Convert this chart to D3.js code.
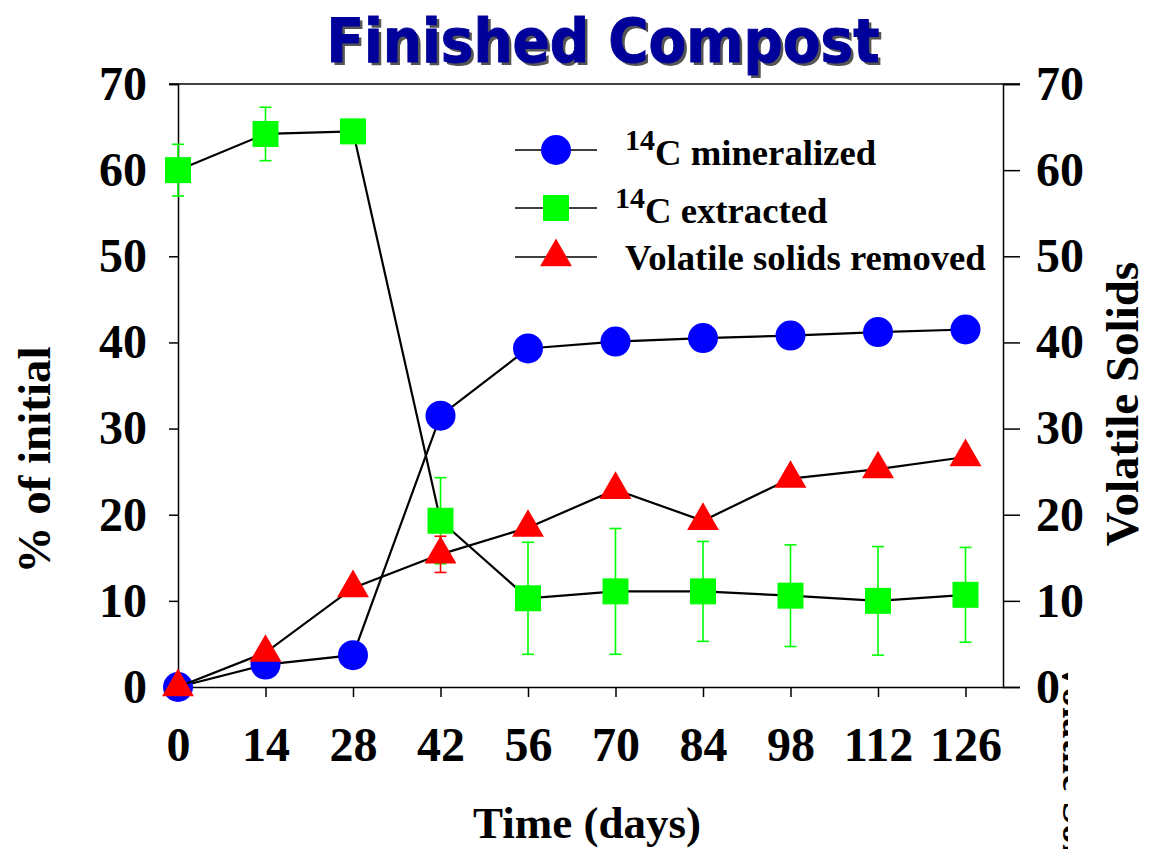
<!DOCTYPE html>
<html>
<head>
<meta charset="utf-8">
<script src="https://cdn.jsdelivr.net/npm/d3@7"></script>
<style>
  body { margin: 0; background: #fff; }
  text { font-family: "Liberation Serif", "Times New Roman", serif; font-weight: bold; }
</style>
</head>
<body>
<div id="chart"></div>
<script>
const days = [0, 14, 28, 42, 56, 70, 84, 98, 112, 126];
const mineralized = [0, 2.6, 3.7, 31.5, 39.3, 40.1, 40.5, 40.8, 41.2, 41.5];
const extracted = [60.0, 64.2, 64.5, 19.3, 10.3, 11.1, 11.1, 10.6, 10.0, 10.7];
const extractedErr = [3.0, 3.1, 0, 5.0, 6.5, 7.3, 5.8, 5.9, 6.3, 5.5];
const volatileRemoved = [0, 4.0, 11.5, 15.4, 18.5, 22.9, 19.3, 24.2, 25.3, 26.7];
const volatileErr = [0, 0, 0, 2.1, 0, 0, 0, 0, 0, 0];
const yTicks = [0, 10, 20, 30, 40, 50, 60, 70];

const W = 1158, H = 849;
const svg = d3.select("#chart").append("svg").attr("width", W).attr("height", H);

const x = d3.scaleLinear().domain([0, 132]).range([178, 1003]);
const y = d3.scaleLinear().domain([0, 70]).range([687, 84]);

// title with drop shadow
const title = "Finished Compost";
svg.append("text").attr("x", 606).attr("y", 65).attr("text-anchor", "middle")
  .attr("textLength", 553).attr("lengthAdjust", "spacingAndGlyphs")
  .style("font-family", "'DejaVu Sans', Verdana, sans-serif").style("font-size", "60px")
  .attr("fill", "#555").text(title);
svg.append("text").attr("x", 603).attr("y", 62).attr("text-anchor", "middle")
  .attr("textLength", 553).attr("lengthAdjust", "spacingAndGlyphs")
  .style("font-family", "'DejaVu Sans', Verdana, sans-serif").style("font-size", "60px")
  .attr("fill", "#00009a").attr("stroke", "#00009a").attr("stroke-width", 1).text(title);

// axes
const axisStyle = g => {
  g.selectAll("path, line").attr("stroke", "#000").attr("stroke-width", 1.5);
  g.selectAll("text").style("font-size", "48px").attr("fill", "#000");
};

svg.append("g").attr("transform", `translate(${x(0)},0)`)
  .call(d3.axisLeft(y).tickValues(yTicks).tickSize(9).tickSizeOuter(9).tickPadding(22))
  .call(axisStyle);

svg.append("g").attr("transform", `translate(${x.range()[1]},0)`)
  .call(d3.axisRight(y).tickValues(yTicks).tickSize(17).tickSizeOuter(17).tickPadding(16))
  .call(axisStyle);

svg.append("g").attr("transform", `translate(0,${y(0)})`)
  .call(d3.axisBottom(x).tickValues(days).tickSize(10).tickSizeOuter(0).tickPadding(30))
  .call(axisStyle);

// top frame
svg.append("line").attr("x1", x(0) - 9).attr("x2", x.range()[1] + 17)
  .attr("y1", y(70)).attr("y2", y(70)).attr("stroke", "#000").attr("stroke-width", 1.5);

// axis titles
svg.append("text").attr("transform", `translate(${W / 2 + 8},838)`).attr("text-anchor", "middle")
  .style("font-size", "45px").text("Time (days)");
svg.append("text").attr("transform", "translate(50,460) rotate(-90)").attr("text-anchor", "middle")
  .style("font-size", "47px").text("% of initial");
svg.append("text").attr("transform", "translate(1138,404) rotate(-90)").attr("text-anchor", "middle")
  .style("font-size", "47px").text("Volatile Solids");

// clipped sliver of rotated text at bottom right
svg.append("clipPath").attr("id", "sliver").append("rect")
  .attr("x", 1062).attr("y", 658).attr("width", 6).attr("height", 191);
svg.append("g").attr("clip-path", "url(#sliver)")
  .append("text")
  .attr("transform", "translate(1063,662) rotate(90)")
  .style("font-size", "40px").text("Volatile Solids");

const line = d3.line().x((d, i) => x(days[i])).y(d => y(d));

const circle = d3.symbol().type(d3.symbolCircle).size(Math.PI * 15 * 15);
const square = d3.symbol().type(d3.symbolSquare).size(26 * 26);
const tri = d3.symbol().type(d3.symbolTriangle).size(440);

function drawSeries(vals, errs, color, sym) {
  const g = svg.append("g");
  g.append("path").datum(vals).attr("d", line)
    .attr("fill", "none").attr("stroke", "#000").attr("stroke-width", 2.2);
  if (errs) {
    const eb = g.selectAll(".eb").data(vals.map((v, i) => ({ v, e: errs[i], d: days[i] })).filter(o => o.e > 0))
      .join("g").attr("stroke", color).attr("stroke-width", 1.6);
    eb.append("line").attr("x1", o => x(o.d)).attr("x2", o => x(o.d))
      .attr("y1", o => y(o.v + o.e)).attr("y2", o => y(o.v - o.e));
    eb.append("line").attr("x1", o => x(o.d) - 6).attr("x2", o => x(o.d) + 6)
      .attr("y1", o => y(o.v + o.e)).attr("y2", o => y(o.v + o.e));
    eb.append("line").attr("x1", o => x(o.d) - 6).attr("x2", o => x(o.d) + 6)
      .attr("y1", o => y(o.v - o.e)).attr("y2", o => y(o.v - o.e));
  }
  g.selectAll(".m").data(vals).join("path")
    .attr("transform", (d, i) => `translate(${x(days[i])},${y(d)})`)
    .attr("d", sym).attr("fill", color);
}

drawSeries(mineralized, null, "#0000ff", circle);
drawSeries(extracted, extractedErr, "#00ff00", square);
drawSeries(volatileRemoved, volatileErr, "#ff0000", tri);

// legend
const legend = [
  { sym: circle, color: "#0000ff", sup: "14", label: "C mineralized", y: 150, tx: 625 },
  { sym: square, color: "#00ff00", sup: "14", label: "C extracted", y: 208, tx: 615 },
  { sym: tri, color: "#ff0000", sup: "", label: "Volatile solids removed", y: 257, tx: 625 }
];
const lg = svg.append("g");
legend.forEach(d => {
  lg.append("line").attr("x1", 515).attr("x2", 597).attr("y1", d.y).attr("y2", d.y)
    .attr("stroke", "#000").attr("stroke-width", 1.5);
  lg.append("path").attr("transform", `translate(556,${d.y})`).attr("d", d.sym).attr("fill", d.color);
  const t = lg.append("text").attr("x", d.tx).attr("y", d.sup ? d.y + 15 : d.y + 13)
    .style("font-size", "36.7px");
  if (d.sup) {
    t.append("tspan").style("font-size", "30px").attr("dy", -15).text(d.sup);
    t.append("tspan").attr("dy", 15).text(d.label);
  } else {
    t.text(d.label);
  }
});
</script>
</body>
</html>
